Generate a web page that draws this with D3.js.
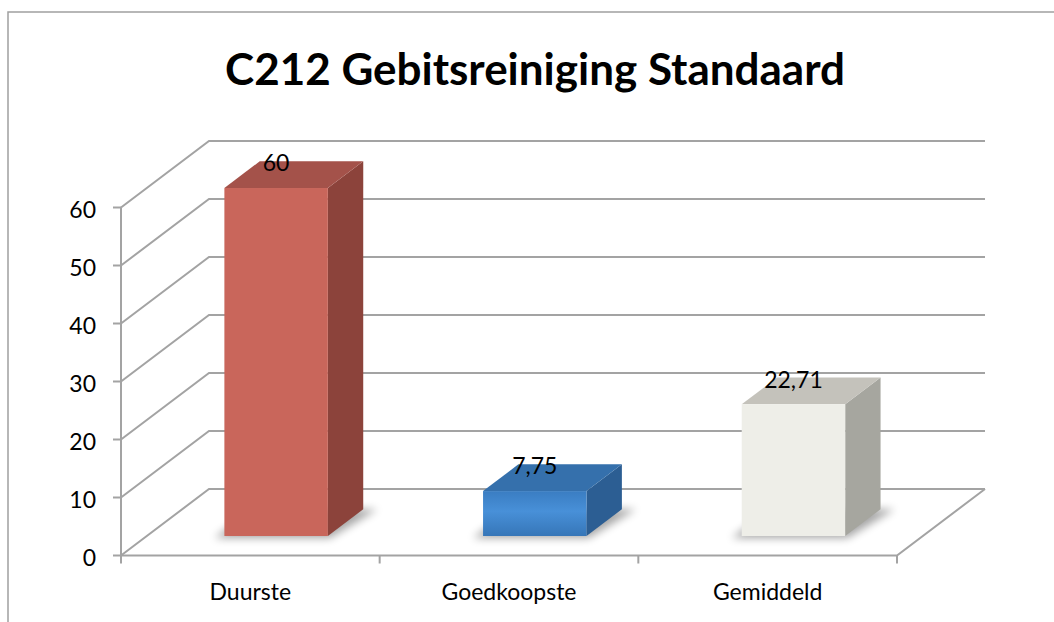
<!DOCTYPE html>
<html>
<head>
<meta charset="utf-8">
<script src="https://cdn.jsdelivr.net/npm/d3@7"></script>
<style>
  body { margin: 0; background: #fff; }
  text { font-family: Lato, "Open Sans", sans-serif; fill: #000; }
</style>
</head>
<body>
<div class="chart"></div>
<script>
// chart values
const title = "C212 Gebitsreiniging Standaard";
const categories = ["Duurste", "Goedkoopste", "Gemiddeld"];
const values = [60, 7.75, 22.71];
const yTicks = [0, 10, 20, 30, 40, 50, 60];

// face colours per bar: front, top, side
const frontColors = ["#c9665b", "#3f86cc", "#eeeee8"];
const topColors = ["#a4524a", "#3570ac", "#c4c2bb"];
const sideColors = ["#8c433b", "#2c5e93", "#a6a69f"];

const width = 1054, height = 622;
const depthX = 88, depthY = -66.5;   // full floor depth offset
const barDepth0 = 0.293, barDepth1 = 0.695; // bar position inside the depth
const grid = "#a3a3a3";
const fs = 23;

const svg = d3.select(".chart").append("svg")
    .attr("width", width)
    .attr("height", height);

const defs = svg.append("defs");
defs.append("filter").attr("id", "shadow")
    .attr("x", "-50%").attr("y", "-50%").attr("width", "200%").attr("height", "200%")
  .append("feGaussianBlur").attr("stdDeviation", 4);

const grad = defs.append("linearGradient").attr("id", "blueFront")
    .attr("x1", 0).attr("y1", 0).attr("x2", 0).attr("y2", 1);
grad.append("stop").attr("offset", "0%").attr("stop-color", "#3a7dc2");
grad.append("stop").attr("offset", "45%").attr("stop-color", "#4890d8");
grad.append("stop").attr("offset", "100%").attr("stop-color", "#3676b8");

// chart border
svg.append("rect")
    .attr("x", 8).attr("y", 12)
    .attr("width", width + 20).attr("height", height + 20)
    .attr("fill", "none").attr("stroke", "#a0a0a0").attr("stroke-width", 1.5);

const x = d3.scaleBand().domain(categories).range([121, 897]).padding(0);
const y = d3.scaleLinear().domain([0, 60]).range([555.5, 207.5]);

const fmt = d3.formatLocale({ decimal: ",", thousands: ".", grouping: [3], currency: ["€", ""] }).format("~g");

// back wall and side wall gridlines
const gridG = svg.append("g").attr("fill", "none").attr("stroke", grid).attr("stroke-width", 2);
yTicks.forEach(v => {
    const p = [[x.range()[0], y(v)], [x.range()[0] + depthX, y(v) + depthY], [x.range()[1] + depthX, y(v) + depthY]];
    gridG.append("path").attr("d", d3.line()(p));
});

// front axis + floor
gridG.append("line")
    .attr("x1", x.range()[0]).attr("x2", x.range()[0])
    .attr("y1", y(60)).attr("y2", y(0));
gridG.append("path").attr("d", d3.line()([
    [x.range()[0], y(0)], [x.range()[1], y(0)], [x.range()[1] + depthX, y(0) + depthY]
]));

// y tick marks + labels
yTicks.forEach(v => {
    gridG.append("line")
        .attr("x1", x.range()[0] - 8).attr("x2", x.range()[0])
        .attr("y1", y(v)).attr("y2", y(v));
    svg.append("text")
        .attr("x", 96).attr("y", y(v) + 1)
        .attr("text-anchor", "end").attr("dominant-baseline", "central")
        .attr("font-size", fs)
        .text(v);
});

// category boundary ticks + labels
const bounds = categories.map(c => x(c)).concat([x.range()[1]]);
bounds.forEach(b => {
    gridG.append("line")
        .attr("x1", b).attr("x2", b)
        .attr("y1", y(0)).attr("y2", y(0) + 8);
});
categories.forEach(c => {
    svg.append("text")
        .attr("x", x(c) + x.bandwidth() / 2).attr("y", 600)
        .attr("text-anchor", "middle")
        .attr("font-size", fs)
        .text(c);
});

// bars
const barW = x.bandwidth() * 0.4;
const bdx = depthX * (barDepth1 - barDepth0), bdy = depthY * (barDepth1 - barDepth0);
const barsG = svg.append("g");
values.forEach((v, i) => {
    const c = categories[i];
    const ox = depthX * barDepth0, oy = depthY * barDepth0;
    const x0 = x(c) + (x.bandwidth() - barW) / 2 + ox;
    const x1 = x0 + barW;
    const yb = y(0) + oy;
    const yt = y(v) + oy;

    // soft shadow on the floor
    barsG.append("path")
        .attr("d", d3.line()([[x0 - 10, yb + 2], [x1 + 2, yb + 2], [x1 + bdx + 14, yb + bdy], [x0 + bdx - 6, yb + bdy]]) + "Z")
        .attr("fill", "#000").attr("opacity", 0.35)
        .attr("filter", "url(#shadow)");

    // side
    barsG.append("path")
        .attr("d", d3.line()([[x1, yt], [x1 + bdx, yt + bdy], [x1 + bdx, yb + bdy], [x1, yb]]) + "Z")
        .attr("fill", sideColors[i]);
    // top
    barsG.append("path")
        .attr("d", d3.line()([[x0, yt], [x0 + bdx, yt + bdy], [x1 + bdx, yt + bdy], [x1, yt]]) + "Z")
        .attr("fill", topColors[i]);
    // front
    barsG.append("rect")
        .attr("x", x0).attr("y", yt)
        .attr("width", barW).attr("height", yb - yt)
        .attr("fill", i === 1 ? "url(#blueFront)" : frontColors[i]);

    // value label
    svg.append("text")
        .attr("x", x0 + barW / 2).attr("y", yt + bdy + 1)
        .attr("text-anchor", "middle").attr("dominant-baseline", "central")
        .attr("font-size", fs)
        .text(fmt(v));
});

// title, fitted to the reference width
const t = svg.append("text")
    .attr("x", 535).attr("y", 85)
    .attr("text-anchor", "middle")
    .attr("font-weight", "bold")
    .attr("font-size", 42)
    .text(title);
const tw = t.node().getComputedTextLength();
t.attr("font-size", 42 * 620 / tw);
</script>
</body>
</html>
